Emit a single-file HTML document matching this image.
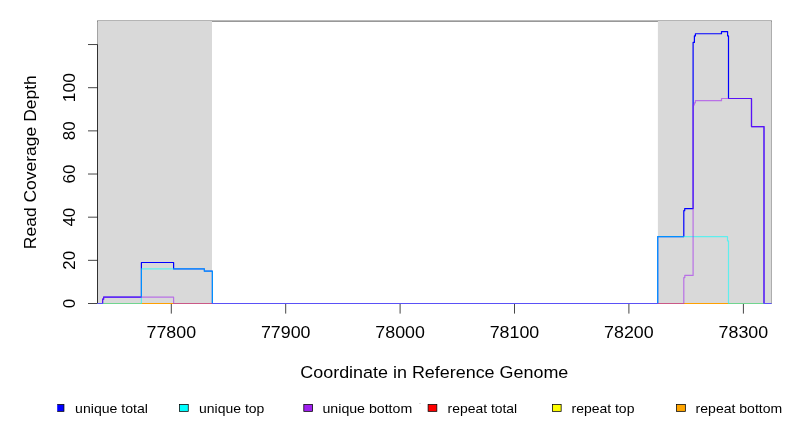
<!DOCTYPE html>
<html><head><meta charset="utf-8"><title>Read Coverage Depth</title>
<style>html,body{margin:0;padding:0;background:#fff;}body{width:792px;height:432px;overflow:hidden;}svg{display:block;will-change:transform;filter:grayscale(0);}text{font-family:"Liberation Sans", sans-serif;fill:#000;}</style>
</head><body>
<svg width="792" height="432" viewBox="0 0 792 432">
<rect x="0" y="0" width="792" height="432" fill="#ffffff"/>
<path d="M97.5,303.5V21.2M771.4,21.2V303.5" fill="none" stroke="#8b8b8b" stroke-width="0.8"/>
<path d="M97,21.15H771.8" fill="none" stroke="#767676" stroke-width="1.25"/>
<rect x="97.2" y="20" width="114.8" height="1.2" fill="#b4b4b4"/>
<rect x="657.9" y="20" width="113.8" height="1.2" fill="#b4b4b4"/>
<rect x="98" y="21" width="114" height="282" fill="#d9d9d9"/>
<rect x="657.9" y="21" width="113.1" height="282" fill="#d9d9d9"/>
<g stroke="#111" stroke-width="0.78" fill="none">
<path d="M97.5,44.54V303.5"/>
<path d="M88,303.5H97.5"/>
<path d="M88,260.34H97.5"/>
<path d="M88,217.18H97.5"/>
<path d="M88,174.02H97.5"/>
<path d="M88,130.86H97.5"/>
<path d="M88,87.7H97.5"/>
<path d="M88,44.54H97.5"/>
<path d="M171.3,303.5V313.6"/>
<path d="M285.7,303.5V313.6"/>
<path d="M400.1,303.5V313.6"/>
<path d="M514.5,303.5V313.6"/>
<path d="M628.9,303.5V313.6"/>
<path d="M743.4,303.5V313.6"/>
</g>
<path d="M97.5,303.5H771.4" stroke="#ffa000" stroke-width="1.2" fill="none"/>
<path d="M97.5,303.5H102.6V299.18H103.6V297.03H141.4V262.5H173.6V268.97H204.4V271.13H212.4V303.5H657.7V236.6H683.8V210.71H684.7V208.55H693.1V42.38H694.4V35.91H695.4V33.75H721.5V31.59H727.6V35.91H728.5V98.49H751.5V126.54H764.0V303.5H771.4" stroke="#0000ff" stroke-width="1.2" fill="none" stroke-linejoin="round"/>
<path d="M97.5,303.5H141.4V268.97H204.4V271.13H212.4V303.5H657.7V236.6H727.5V240.92H728.5V303.5H771.4" stroke="#00ffff" stroke-opacity="0.56" stroke-width="1.2" fill="none" stroke-linejoin="round"/>
<path d="M97.5,303.5H102.6V299.18H103.6V297.03H173.6V303.5H683.8V277.6H684.8V275.45H693.1V104.96H694.3V102.81H695.4V100.65H721.5V98.49H751.5V126.54H764.0V303.5H771.4" stroke="#a020f0" stroke-opacity="0.56" stroke-width="1.2" fill="none" stroke-linejoin="round"/>
<text x="171.3" y="338.2" font-size="16.8" text-anchor="middle" textLength="49.6" lengthAdjust="spacingAndGlyphs">77800</text>
<text x="285.7" y="338.2" font-size="16.8" text-anchor="middle" textLength="49.6" lengthAdjust="spacingAndGlyphs">77900</text>
<text x="400.1" y="338.2" font-size="16.8" text-anchor="middle" textLength="49.6" lengthAdjust="spacingAndGlyphs">78000</text>
<text x="514.5" y="338.2" font-size="16.8" text-anchor="middle" textLength="49.6" lengthAdjust="spacingAndGlyphs">78100</text>
<text x="628.9" y="338.2" font-size="16.8" text-anchor="middle" textLength="49.6" lengthAdjust="spacingAndGlyphs">78200</text>
<text x="743.4" y="338.2" font-size="16.8" text-anchor="middle" textLength="49.6" lengthAdjust="spacingAndGlyphs">78300</text>
<text transform="translate(75.4,303.5) rotate(-90)" font-size="16.8" text-anchor="middle" textLength="9.4" lengthAdjust="spacingAndGlyphs">0</text>
<text transform="translate(75.4,260.34) rotate(-90)" font-size="16.8" text-anchor="middle" textLength="18.8" lengthAdjust="spacingAndGlyphs">20</text>
<text transform="translate(75.4,217.18) rotate(-90)" font-size="16.8" text-anchor="middle" textLength="18.8" lengthAdjust="spacingAndGlyphs">40</text>
<text transform="translate(75.4,174.02) rotate(-90)" font-size="16.8" text-anchor="middle" textLength="18.8" lengthAdjust="spacingAndGlyphs">60</text>
<text transform="translate(75.4,130.86) rotate(-90)" font-size="16.8" text-anchor="middle" textLength="18.8" lengthAdjust="spacingAndGlyphs">80</text>
<text transform="translate(75.4,87.7) rotate(-90)" font-size="16.8" text-anchor="middle" textLength="29.0" lengthAdjust="spacingAndGlyphs">100</text>
<text x="434.3" y="377.5" font-size="16.8" text-anchor="middle" textLength="268" lengthAdjust="spacingAndGlyphs">Coordinate in Reference Genome</text>
<text transform="translate(35.9,162.2) rotate(-90)" font-size="16.8" text-anchor="middle" textLength="174" lengthAdjust="spacingAndGlyphs">Read Coverage Depth</text>
<defs><clipPath id="lc"><rect x="57.2" y="400" width="735" height="32"/></clipPath></defs>
<g clip-path="url(#lc)">
<rect x="55.2" y="404.5" width="8.75" height="6.85" fill="#0000ff" stroke="#000" stroke-width="0.75"/>
<rect x="179.5" y="404.5" width="8.75" height="6.85" fill="#00ffff" stroke="#000" stroke-width="0.75"/>
<rect x="303.8" y="404.5" width="8.75" height="6.85" fill="#a020f0" stroke="#000" stroke-width="0.75"/>
<rect x="428.1" y="404.5" width="8.75" height="6.85" fill="#ff0000" stroke="#000" stroke-width="0.75"/>
<rect x="552.4" y="404.5" width="8.75" height="6.85" fill="#ffff00" stroke="#000" stroke-width="0.75"/>
<rect x="676.6" y="404.5" width="8.75" height="6.85" fill="#ffa500" stroke="#000" stroke-width="0.75"/>
</g>
<text x="75.1" y="412.5" font-size="13" textLength="72.8" lengthAdjust="spacingAndGlyphs">unique total</text>
<text x="199.1" y="412.5" font-size="13" textLength="65.2" lengthAdjust="spacingAndGlyphs">unique top</text>
<text x="322.5" y="412.5" font-size="13" textLength="89.7" lengthAdjust="spacingAndGlyphs">unique bottom</text>
<text x="447.6" y="412.5" font-size="13" textLength="69.6" lengthAdjust="spacingAndGlyphs">repeat total</text>
<text x="571.5" y="412.5" font-size="13" textLength="62.9" lengthAdjust="spacingAndGlyphs">repeat top</text>
<text x="695.6" y="412.5" font-size="13" textLength="86.6" lengthAdjust="spacingAndGlyphs">repeat bottom</text>
<rect x="419" y="403" width="2" height="1" fill="#dedede"/>
</svg></body></html>
